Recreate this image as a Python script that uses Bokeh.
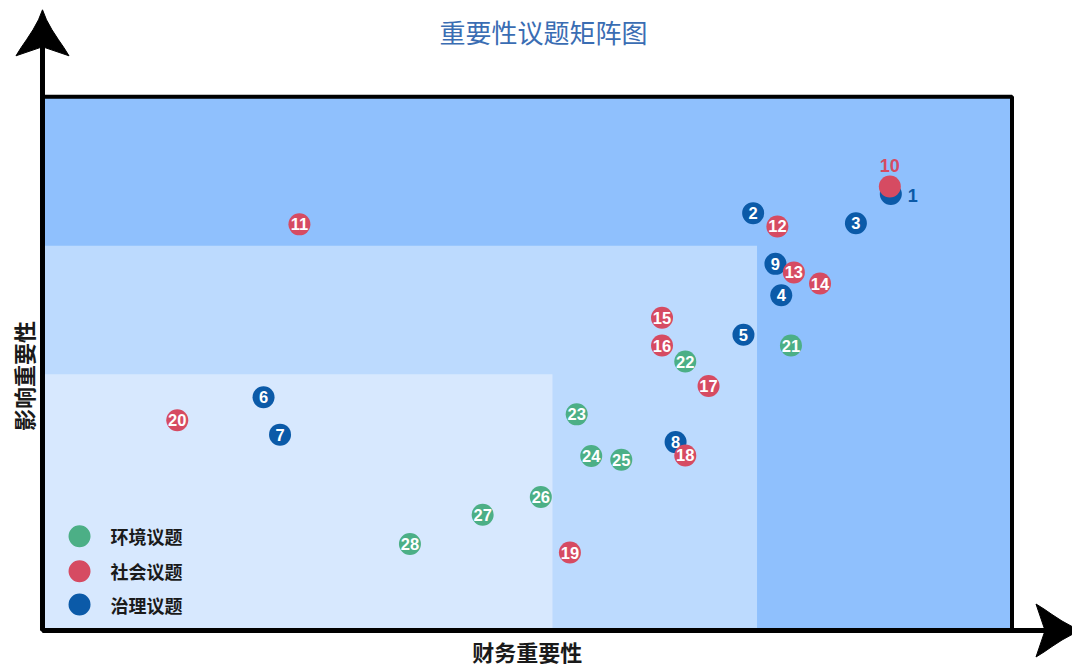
from bokeh.plotting import figure
from bokeh.models import Range1d, ColumnDataSource
from bokeh.core.properties import value
from bokeh.embed import file_html
from bokeh.resources import INLINE
import math

# ---------------- data ----------------
title_text = "重要性议题矩阵图"
x_label = "财务重要性"
y_label = "影响重要性"

categories = ["环境议题", "社会议题", "治理议题"]
cat_colors = ["#4caf86", "#d64b62", "#0b5aa8"]

topic_id = [1, 2, 3, 4, 5, 6, 7, 8, 9,
            10, 11, 12, 13, 14, 15, 16, 17, 18, 19, 20,
            21, 22, 23, 24, 25, 26, 27, 28]
fin_imp = [8.75, 7.33, 8.39, 7.62, 7.23, 2.28, 2.45, 6.53, 7.56,
           8.74, 2.65, 7.58, 7.75, 8.02, 6.39, 6.39, 6.87, 6.63, 5.44, 1.39,
           7.72, 6.63, 5.51, 5.66, 5.97, 5.14, 4.54, 3.79]
imp_imp = [8.18, 7.82, 7.63, 6.28, 5.54, 4.37, 3.67, 3.53, 6.87,
           8.32, 7.61, 7.57, 6.71, 6.50, 5.86, 5.34, 4.58, 3.28, 1.46, 3.94,
           5.34, 5.04, 4.05, 3.27, 3.20, 2.50, 2.17, 1.62]
topic_cat = ["治理议题"] * 9 + ["社会议题"] * 11 + ["环境议题"] * 8

# ids whose number is written beside the dot instead of inside it
outside_label = {1: "right", 10: "above"}

# importance zones (outer, middle, inner)
zone_fin = [10.0, 7.37, 5.26]
zone_imp = [10.0, 7.21, 4.80]
zone_colors = ["#8fc0fd", "#bcdafe", "#d7e8fe"]

# ---------------- layout ----------------
W, H = 1072, 665
x0, x1 = -0.4332, 10.6240
y0, y1 = -0.6558, 11.8044
px_x = W / (x1 - x0)
px_y = H / (y1 - y0)

p = figure(width=W, height=H, x_range=Range1d(x0, x1), y_range=Range1d(y0, y1),
           output_backend="svg", toolbar_location=None, min_border=0,
           x_axis_location=None, y_axis_location=None,
           background_fill_color="white", border_fill_color="white")
p.grid.visible = False
p.outline_line_color = None

# zones
p.quad(left=[0, 0, 0], right=zone_fin, bottom=[0, 0, 0], top=zone_imp,
       fill_color=zone_colors, line_color=None)
# frame border
p.quad(left=[0], right=[zone_fin[0]], bottom=[0], top=[zone_imp[0]],
       fill_color=None, line_color="black", line_width=4)

# axis arrows
tip_y = zone_imp[0] + 87 / px_y
tip_x = zone_fin[0] + 70 / px_x
p.line([0, 0], [0, tip_y - 30 / px_y], line_color="black", line_width=5)
p.line([0, tip_x - 30 / px_x], [0, 0], line_color="black", line_width=5)

profile = [(0, 0), (10, 4), (20, 9.5), (30, 16), (38, 21.5), (46, 26.5), (38, 3),
           (38, -3), (46, -26.5), (38, -21.5), (30, -16), (20, -9.5), (10, -4)]
p.patch([0 + w / px_x for d, w in profile], [tip_y - d / px_y for d, w in profile],
        fill_color="black", line_color="black", line_width=1)
p.patch([tip_x - d / px_x for d, w in profile], [0 + w / px_y for d, w in profile],
        fill_color="black", line_color="black", line_width=1)

# points
colors = [cat_colors[categories.index(c)] for c in topic_cat]
inner_text = ["" if i in outside_label else str(i) for i in topic_id]
src = ColumnDataSource(dict(x=fin_imp, y=imp_imp, c=colors, t=inner_text))
p.scatter("x", "y", source=src, size=22, fill_color="c", line_color=None)
p.text("x", "y", text="t", source=src, text_color="white",
       text_font=value("Liberation Sans"), text_font_style="bold",
       text_font_size="16.5px", text_align="center", text_baseline="middle")

for i, side in outside_label.items():
    k = topic_id.index(i)
    dx, dy = (22, -2) if side == "right" else (0, 21)
    p.text([fin_imp[k]], [imp_imp[k]], text=[str(i)], x_offset=dx, y_offset=-dy,
           text_color=colors[k], text_font=value("Liberation Sans"),
           text_font_style="bold", text_font_size="18px",
           text_align="center", text_baseline="middle")

# legend
leg_y = [1.767, 1.111, 0.487]
p.scatter([0.382] * 3, leg_y, size=22, fill_color=cat_colors, line_color=None)
p.text([0.701] * 3, leg_y, text=categories, text_color="#1a1a1a",
       text_font=value("Noto Sans CJK SC"), text_font_style="bold",
       text_font_size="18px", text_align="left", text_baseline="middle")

# title and axis titles
p.text([(543 - 42) / px_x], [zone_imp[0] + (96.3 - 30.5) / px_y], text=[title_text],
       text_color="#3a6db3", text_font=value("Noto Sans CJK SC"),
       text_font_size="26px", text_align="center", text_baseline="middle")
p.text([5.0], [-20 / px_y], text=[x_label], text_color="#1a1a1a",
       text_font=value("Noto Sans CJK SC"), text_font_style="bold",
       text_font_size="22px", text_align="center", text_baseline="middle")
p.text([-19 / px_x], [4.77], text=[y_label], angle=math.pi / 2, text_color="#1a1a1a",
       text_font=value("Noto Sans CJK SC"), text_font_style="bold",
       text_font_size="22px", text_align="center", text_baseline="middle")

open("out.html", "w").write(file_html(p, INLINE))
